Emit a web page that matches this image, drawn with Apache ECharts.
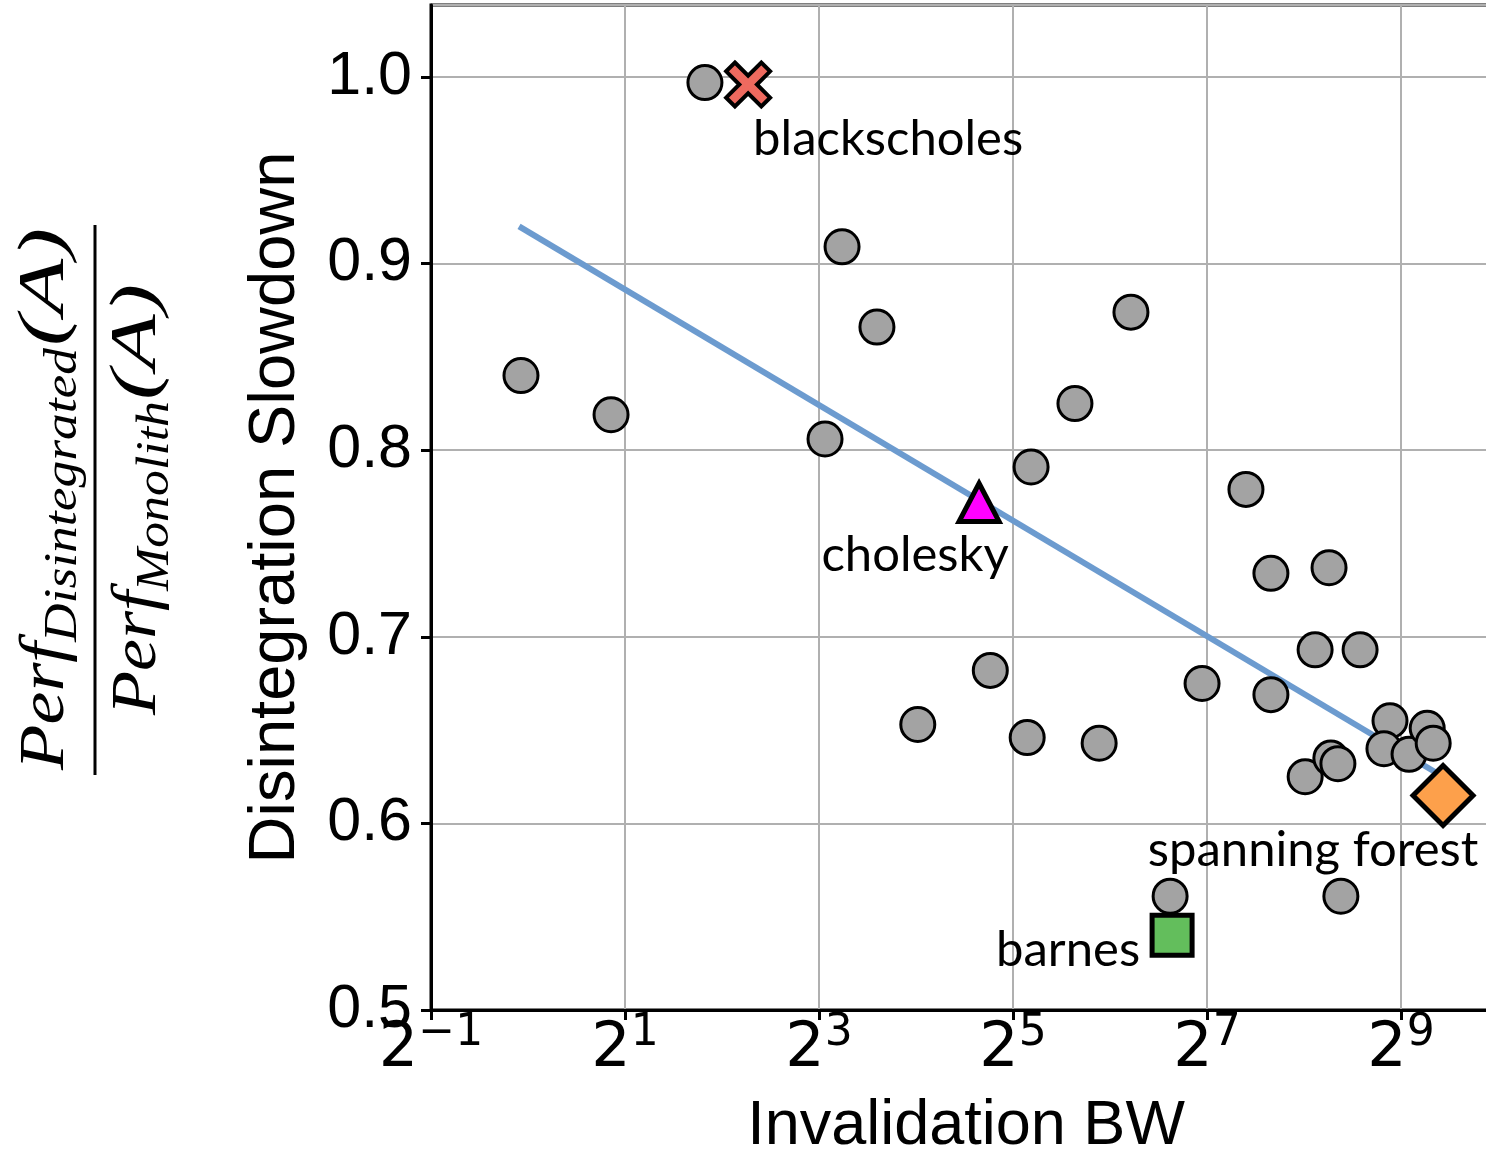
<!DOCTYPE html>
<html>
<head>
<meta charset="utf-8">
<script src="https://cdn.jsdelivr.net/npm/echarts@6/dist/echarts.min.js"></script>
<style>
  html, body { margin: 0; padding: 0; background: #ffffff; }
  #chart { width: 1486px; height: 1153px; }
</style>
</head>
<body>
<div id="chart"></div>
<script>
// Benchmarks shown as plain grey markers: invalidation bandwidth vs. slowdown
const bandwidth = [3.54, 9.43, 12.1, 74.3, 0.951, 1.81, 8.35, 49.8, 36.4, 169, 202, 306, 277, 382,
  27.2, 16.2, 35.4, 59.2, 123.5, 202, 258, 310, 326, 473, 453, 542, 617, 644, 98.3, 333];
const slowdown = [0.997, 0.909, 0.866, 0.874, 0.840, 0.819, 0.806, 0.825, 0.791, 0.779, 0.734, 0.737, 0.693, 0.693,
  0.682, 0.653, 0.646, 0.643, 0.675, 0.669, 0.625, 0.635, 0.632, 0.655, 0.640, 0.637, 0.651, 0.643, 0.561, 0.561];

// Highlighted benchmarks
const highlightNames = ['blackscholes', 'cholesky', 'barnes', 'spanning forest'];
const highlightBandwidth = [4.82, 25.1, 99.7, 691];
const highlightSlowdown = [0.996, 0.772, 0.540, 0.615];

// End points of the log-linear trend line
const trendBandwidth = [0.938, 691];
const trendSlowdown = [0.920, 0.625];

// Axis ticks: x ticks are base-2 exponents
const xTickExponents = [-1, 1, 3, 5, 7, 9];
const yTickValues = [0.5, 0.6, 0.7, 0.8, 0.9, 1.0];

const crossPath = 'path://M2,0L5,3L8,0L10,2L7,5L10,8L8,10L5,7L2,10L0,8L3,5L0,2Z';
const highlightLook = [
  { symbol: crossPath, size: 44, color: '#ee6a5f', border: 4, align: 'left', offset: [5, 55] },
  { symbol: 'triangle', size: [40, 38], color: '#ff00ff', border: 5, align: 'center', offset: [-64, 53] },
  { symbol: 'rect', size: 40, color: '#63be5c', border: 5, align: 'right', offset: [-32, 15] },
  { symbol: 'diamond', size: [60, 60], color: '#fda04b', border: 5, align: 'center', offset: [-130, 55] }
];

const log2 = v => Math.log2(v);
const greyPoints = bandwidth.map((b, i) => [log2(b), slowdown[i]]);
const trendPoints = trendBandwidth.map((b, i) => [log2(b), trendSlowdown[i]]);
const highlightPoints = highlightNames.map((name, i) => {
  const look = highlightLook[i];
  return {
    name: name,
    value: [log2(highlightBandwidth[i]), highlightSlowdown[i]],
    symbol: look.symbol,
    symbolSize: look.size,
    itemStyle: { color: look.color, borderColor: '#000000', borderWidth: look.border, opacity: 1 },
    label: {
      show: true,
      formatter: name,
      position: 'inside',
      align: look.align,
      verticalAlign: 'middle',
      offset: look.offset,
      fontFamily: 'Lato',
      fontSize: 49,
      color: '#000000',
      opacity: 1
    }
  };
});

// Stacked fraction Perf_Disintegrated(A) / Perf_Monolith(A), written bottom-to-top
const measureCtx = document.createElement('canvas').getContext('2d');
function measure(text, size) {
  measureCtx.font = 'italic ' + size + 'px "Liberation Serif"';
  return measureCtx.measureText(text).width;
}
const fractionPieces = [
  { text: 'Perf', size: 64, start: 770, length: 128, centre: 46 },
  { text: 'Disintegrated', size: 46, start: 642, length: 294, centre: 64 },
  { text: '(A)', size: 66, start: 346, length: 118, centre: 46 },
  { text: 'Perf', size: 64, start: 715, length: 124, centre: 138 },
  { text: 'Monolith', size: 46, start: 591, length: 190, centre: 156 },
  { text: '(A)', size: 66, start: 400, length: 116, centre: 138 }
];
const fractionGraphics = fractionPieces.map(p => ({
  type: 'text',
  x: p.centre,
  y: p.start,
  rotation: Math.PI / 2,
  scaleX: p.length / measure(p.text, p.size),
  style: {
    text: p.text,
    fontFamily: 'Liberation Serif',
    fontStyle: 'italic',
    fontSize: p.size,
    fill: '#000000',
    align: 'left',
    verticalAlign: 'middle'
  }
}));
fractionGraphics.push({
  type: 'line',
  shape: { x1: 95, y1: 225, x2: 95, y2: 775 },
  style: { stroke: '#000000', lineWidth: 3 }
});

const chart = echarts.init(document.getElementById('chart'), null, { renderer: 'canvas' });
chart.setOption({
  animation: false,
  backgroundColor: '#ffffff',
  grid: {
    left: 431, top: 5, right: -15, bottom: 143,
    show: true, borderColor: '#000000', borderWidth: 3,
    containLabel: false, outerBoundsMode: 'none'
  },
  xAxis: {
    type: 'value', min: -1, max: 10.03, interval: 2,
    name: 'Invalidation BW', nameLocation: 'middle', nameGap: 85,
    nameTextStyle: { fontFamily: 'Liberation Sans', fontSize: 63, color: '#000000' },
    axisLine: { show: true, onZero: false, lineStyle: { color: '#000000', width: 3 } },
    axisTick: { show: true, length: 10, lineStyle: { color: '#000000', width: 3 } },
    axisLabel: {
      margin: 2,
      showMaxLabel: false,
      formatter: v => {
        if (!xTickExponents.includes(v)) return '';
        const e = v < 0 ? '\u2212' + (-v) : String(v);
        return '{b|2}{s|' + e + '}';
      },
      rich: {
        b: { fontFamily: 'DejaVu Sans', fontSize: 62, color: '#000000', lineHeight: 76 },
        s: { fontFamily: 'DejaVu Sans', fontSize: 44, color: '#000000', lineHeight: 44, verticalAlign: 'top' }
      }
    },
    splitLine: { show: true, lineStyle: { color: '#b0b0b0', width: 2 } }
  },
  yAxis: {
    type: 'value', min: 0.5, max: 1.0386, interval: 0.1,
    name: 'Disintegration Slowdown', nameLocation: 'middle', nameGap: 122,
    nameTextStyle: { fontFamily: 'Liberation Sans', fontSize: 65, color: '#000000' },
    axisLine: { show: true, onZero: false, lineStyle: { color: '#000000', width: 3 } },
    axisTick: { show: true, length: 10, lineStyle: { color: '#000000', width: 3 } },
    axisLabel: {
      margin: 19,
      showMaxLabel: false,
      fontFamily: 'Liberation Sans', fontSize: 61, color: '#000000',
      formatter: v => {
        const hit = yTickValues.find(t => Math.abs(t - v) < 1e-6);
        return hit === undefined ? '' : hit.toFixed(1);
      }
    },
    splitLine: { show: true, lineStyle: { color: '#b0b0b0', width: 2 } }
  },
  series: [
    {
      type: 'line',
      data: trendPoints,
      symbol: 'none',
      lineStyle: { color: '#6c9bcf', width: 6 },
      z: 2
    },
    {
      type: 'scatter',
      data: greyPoints,
      symbol: 'circle',
      symbolSize: 34,
      itemStyle: { color: '#a3a3a3', borderColor: '#000000', borderWidth: 3, opacity: 1 },
      z: 3
    },
    {
      type: 'scatter',
      data: highlightPoints,
      itemStyle: { opacity: 1 },
      z: 4
    }
  ],
  graphic: fractionGraphics
});
</script>
</body>
</html>
